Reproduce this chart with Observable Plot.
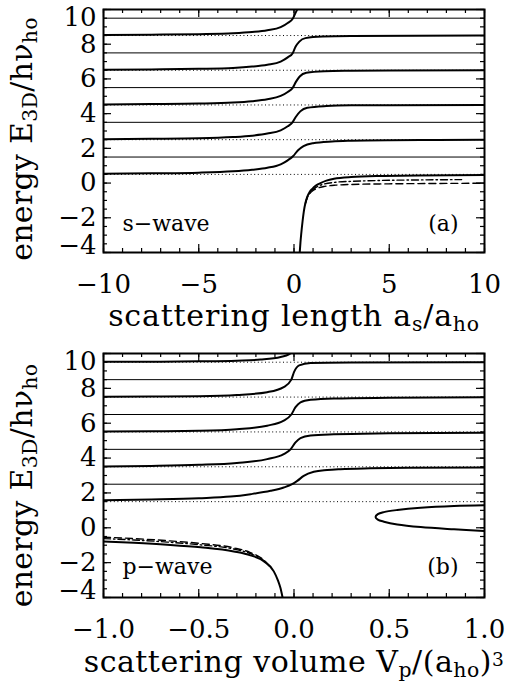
<!DOCTYPE html>
<html><head><meta charset="utf-8">
<script src="https://cdn.jsdelivr.net/npm/d3@7"></script>
<script src="https://cdn.jsdelivr.net/npm/@observablehq/plot@0.6"></script>
<style>body{margin:0;background:#fff} svg{display:block}</style>
</head><body><div id="chart"></div>
<script>
// ---------- Panel (a): s-wave ----------
const aXTicks = [-10, -5, 0, 5, 10];
const aXMinor = [-10,-9,-8,-7,-6,-5,-4,-3,-2,-1,0,1,2,3,4,5,6,7,8,9,10];
const aYTicks = [-2, 0, 2, 4, 6, 8];
const aYTop = [10];
const aYBottom = [-4];
const aLevelsSolid = [1.5, 3.5, 5.5, 7.5, 9.5];
const aLevelsDotted = [0.5, 2.5, 4.5, 6.5, 8.5];
const aBranch1 = [[-10,0.53],[-7.5,0.56],[-5,0.6],[-3.2,0.68],[-2.2,0.77],[-1.4,0.88],[-0.7,1.08],[-0.33,1.31],[-0.04,1.56],[0.2,1.88],[0.5,2.13],[1.0,2.3],[2.0,2.4],[3.0,2.44],[5,2.47],[7.5,2.48],[10,2.49]];
const aBranch2 = [[-10,2.53],[-7.5,2.55],[-5,2.58],[-3.2,2.65],[-2.2,2.73],[-1.4,2.85],[-0.7,3.04],[-0.33,3.27],[-0.08,3.5],[0.1,3.82],[0.33,4.13],[0.7,4.34],[1.7,4.44],[3,4.48],[5,4.49],[10,4.5]];
const aBranch3 = [[-10,4.53],[-7.5,4.55],[-5,4.58],[-3.2,4.64],[-2.2,4.72],[-1.4,4.83],[-0.7,5.02],[-0.33,5.25],[-0.06,5.5],[0.1,5.83],[0.3,6.14],[0.65,6.35],[1.6,6.44],[3,6.47],[5,6.49],[10,6.5]];
const aBranch4 = [[-10,6.53],[-7.5,6.55],[-5,6.58],[-3.2,6.63],[-2.2,6.71],[-1.4,6.82],[-0.7,7.0],[-0.33,7.24],[-0.06,7.5],[0.08,7.85],[0.28,8.15],[0.6,8.35],[1.5,8.44],[3,8.47],[10,8.5]];
const aBranch5 = [[-10,8.53],[-7.5,8.55],[-5,8.58],[-3.2,8.63],[-2.2,8.7],[-1.4,8.8],[-0.7,8.98],[-0.33,9.22],[-0.05,9.5],[0.1,9.85],[0.22,10.1],[0.4,10.35]];
const aBoundSolid = [[0.3,-4.0],[0.34,-3.4],[0.38,-2.92],[0.45,-2.2],[0.52,-1.6],[0.6,-1.15],[0.69,-0.81],[0.82,-0.52],[0.96,-0.33],[1.15,-0.14],[1.39,0.0],[1.7,0.14],[2.1,0.25],[3,0.35],[4.7,0.41],[6.5,0.44],[10,0.46]];
const aBoundDashDot = [[0.6,-1.16],[0.69,-0.84],[0.82,-0.58],[1.04,-0.33],[1.3,-0.16],[1.57,-0.06],[2.2,0.05],[3,0.1],[4.5,0.15],[6.5,0.18],[8.8,0.2]];
const aBoundDashed = [[0.6,-1.17],[0.69,-0.86],[0.82,-0.62],[1.04,-0.4],[1.3,-0.27],[1.57,-0.2],[2.2,-0.12],[3,-0.08],[4.5,-0.05],[6.5,-0.03],[10,-0.01]];
const aLabel = "s\u2212wave";
const aTag = "(a)";
const aXTitle = [["scattering length a",""],["s","sub"],["/a",""],["ho","sub"]];

// ---------- Panel (b): p-wave ----------
const bXTicks = [-1, -0.5, 0, 0.5, 1];
const bXMinor = [-1,-0.9,-0.8,-0.7,-0.6,-0.5,-0.4,-0.3,-0.2,-0.1,0,0.1,0.2,0.3,0.4,0.5,0.6,0.7,0.8,0.9,1];
const bYTicks = [-2, 0, 2, 4, 6, 8];
const bYTop = [10];
const bYBottom = [-4];
const bLevelsSolid = [2.5, 4.5, 6.5, 8.5];
const bLevelsDotted = [1.5, 3.5, 5.5, 7.5, 9.5];
const bBranch1 = [[-1,1.58],[-0.75,1.63],[-0.5,1.7],[-0.333,1.79],[-0.228,1.93],[-0.123,2.12],[-0.054,2.31],[-0.01,2.5],[0.017,2.69],[0.051,2.98],[0.104,3.21],[0.174,3.31],[0.244,3.36],[0.4,3.41],[0.6,3.44],[1,3.46]];
const bBranch2 = [[-1,3.52],[-0.75,3.55],[-0.5,3.61],[-0.3,3.72],[-0.141,3.94],[-0.054,4.23],[-0.018,4.5],[0.008,4.9],[0.034,5.15],[0.087,5.29],[0.209,5.36],[0.5,5.42],[1,5.46]];
const bBranch3 = [[-1,5.52],[-0.75,5.54],[-0.5,5.57],[-0.3,5.66],[-0.141,5.86],[-0.054,6.15],[-0.014,6.5],[0.008,6.92],[0.034,7.2],[0.087,7.34],[0.21,7.42],[0.5,7.46],[1,7.49]];
const bBranch4 = [[-1,7.52],[-0.75,7.53],[-0.5,7.55],[-0.3,7.62],[-0.141,7.78],[-0.054,8.07],[-0.014,8.5],[0.0,8.93],[0.027,9.32],[0.087,9.45],[0.3,9.48],[1,9.5]];
const bBranch5 = [[-1,9.52],[-0.75,9.53],[-0.5,9.55],[-0.3,9.59],[-0.176,9.65],[-0.07,9.8],[-0.027,9.95],[-0.01,10.1],[0.0,10.3]];
const bBoundSolid = [[-1,-0.78],[-0.84,-0.86],[-0.666,-0.97],[-0.49,-1.12],[-0.316,-1.36],[-0.229,-1.58],[-0.159,-1.92],[-0.106,-2.5],[-0.085,-3.0],[-0.071,-3.46],[-0.06,-4.0]];
const bBoundDashed = [[-1,-0.54],[-0.84,-0.62],[-0.666,-0.74],[-0.49,-0.9],[-0.316,-1.15],[-0.229,-1.42],[-0.159,-1.85],[-0.12,-2.3]];
const bBoundDashDot = [[-1,-0.62],[-0.84,-0.7],[-0.666,-0.82],[-0.49,-0.98],[-0.316,-1.22],[-0.229,-1.48],[-0.159,-1.88],[-0.12,-2.3]];
const bLoop = [[1,1.29],[0.84,1.25],[0.665,1.15],[0.542,1.02],[0.472,0.9],[0.44,0.78],[0.428,0.62],[0.44,0.47],[0.472,0.35],[0.542,0.19],[0.665,0.04],[0.84,-0.09],[1,-0.19]];
const bLabel = "p\u2212wave";
const bTag = "(b)";
const bXTitle = [["scattering volume V",""],["p","sub"],["/(a",""],["ho","sub"],[")",""],["3","sup"]];

const yTitle = [["energy E",""],["3D","sub"],["/h\u03bd",""],["ho","sub"]];

const FONT = "DejaVu Serif";
const plain = parts => parts.map(p => p[0]).join("");

function panel(o) {
  const fw = 505 - o.ml - o.mr, fh = o.h - o.mt - o.mb;
  const X = d => d[0], Y = d => d[1];
  const lineOpts = {x: X, y: Y, curve: "monotone-x", stroke: "black", strokeWidth: 2, clip: true};
  return Plot.plot({
    width: 505, height: o.h,
    marginLeft: o.ml, marginRight: o.mr, marginTop: o.mt, marginBottom: o.mb,
    x: {domain: o.xDomain, label: null},
    y: {domain: [-4, 10], label: null},
    style: {fontFamily: FONT, fontSize: "26px", background: "white", color: "black"},
    marks: [
      Plot.ruleY(o.levelsDotted, {y: d => d, stroke: "black", strokeWidth: 1, strokeDasharray: "1,2.6"}),
      Plot.ruleY(o.levelsSolid, {y: d => d, stroke: "black", strokeWidth: 1}),
      ...o.branches.map(b => Plot.line(b, lineOpts)),
      ...(o.loop ? [Plot.line(o.loop, {...lineOpts, curve: "catmull-rom"})] : []),
      Plot.line(o.boundDashed, {...lineOpts, strokeWidth: 1.4, strokeDasharray: "7,4"}),
      Plot.line(o.boundDashDot, {...lineOpts, strokeWidth: 1.4, strokeDasharray: "7,3,1.5,3"}),
      Plot.line(o.boundSolid, lineOpts),
      // inward ticks on all four sides
      Plot.tickX(o.xMinor, {x: d => d, insetTop: fh - 4, strokeWidth: 1.2}),
      Plot.tickX(o.xMinor, {x: d => d, insetBottom: fh - 4, strokeWidth: 1.2}),
      Plot.tickX(o.xTicks, {x: d => d, insetTop: fh - 8, strokeWidth: 1.2}),
      Plot.tickX(o.xTicks, {x: d => d, insetBottom: fh - 8, strokeWidth: 1.2}),
      Plot.tickY(o.yMinor, {y: d => d, insetRight: fw - 4, strokeWidth: 1.2}),
      Plot.tickY(o.yMinor, {y: d => d, insetLeft: fw - 4, strokeWidth: 1.2}),
      Plot.tickY(o.yMajor, {y: d => d, insetRight: fw - 8, strokeWidth: 1.2}),
      Plot.tickY(o.yMajor, {y: d => d, insetLeft: fw - 8, strokeWidth: 1.2}),
      Plot.frame({stroke: "black", strokeWidth: 2}),
      // tick labels
      Plot.axisX({ticks: o.xTicks, anchor: "bottom", tickSize: 0, tickPadding: o.xPad, tickFormat: o.xFormat, fontSize: 26, label: null}),
      Plot.axisY({ticks: o.yTicks, anchor: "left", tickSize: 0, tickPadding: 7, tickFormat: d3.format("d"), fontSize: 26, label: null}),
      Plot.axisY({ticks: o.yTop, anchor: "left", tickSize: 0, tickPadding: 7, tickFormat: d3.format("d"), fontSize: 26, label: null, dy: 8}),
      Plot.axisY({ticks: o.yBottom, anchor: "left", tickSize: 0, tickPadding: 7, tickFormat: d3.format("d"), fontSize: 26, label: null, dy: -7}),
      // annotations
      Plot.text([o.label], {text: d => d, frameAnchor: "bottom-left", textAnchor: "start", dx: 19, dy: o.tagDy, fontSize: 22}),
      Plot.text([o.tag], {text: d => d, frameAnchor: "bottom-right", textAnchor: "end", dx: -26, dy: o.tagDy, fontSize: 22}),
      // axis titles
      Plot.text([plain(o.xTitle)], {text: d => d, frameAnchor: "bottom", textAnchor: "middle", dy: o.xTitleDy, fontSize: 30}),
      Plot.text([plain(yTitle)], {text: d => d, frameAnchor: "left", textAnchor: "middle", rotate: -90, dx: -81, dy: o.yTitleDy, fontSize: 30})
    ]
  });
}

const SVGNS = "http://www.w3.org/2000/svg";
function richify(svg, parts, size, spacing) {
  const p = plain(parts);
  for (const t of svg.querySelectorAll("text")) {
    if (t.textContent !== p) continue;
    t.textContent = "";
    if (spacing) t.setAttribute("letter-spacing", spacing);
    let shift = 0;
    for (const [s, kind] of parts) {
      const ts = document.createElementNS(SVGNS, "tspan");
      const target = kind === "sub" ? 0.17 * size : kind === "sup" ? -0.17 * size : 0;
      if (target !== shift) ts.setAttribute("dy", target - shift);
      shift = target;
      if (kind) ts.setAttribute("font-size", (kind === "sup" ? 0.62 : 0.68) * size);
      ts.textContent = s;
      t.appendChild(ts);
    }
  }
}

const fmtA = d3.format("d");
const fmtB = d3.format(".1f");
const range = (a, b, s) => d3.range(Math.round((b - a) / s) + 1).map(i => +(a + i * s).toFixed(3));

const svgA = panel({
  h: 340, ml: 103, mr: 21, mt: 9, mb: 88,
  xDomain: [-10, 10], xTicks: aXTicks, xMinor: aXMinor, xFormat: fmtA, xPad: 22,
  yTicks: aYTicks, yTop: aYTop, yBottom: aYBottom,
  yMajor: range(-4, 10, 2), yMinor: range(-4, 10, 0.5),
  levelsSolid: aLevelsSolid, levelsDotted: aLevelsDotted,
  branches: [aBranch1, aBranch2, aBranch3, aBranch4, aBranch5],
  boundSolid: aBoundSolid, boundDashed: aBoundDashed, boundDashDot: aBoundDashDot,
  label: aLabel, tag: aTag, tagDy: -22, xTitle: aXTitle, xTitleDy: 73, yTitleDy: 8
});
const svgB = panel({
  h: 341, ml: 103, mr: 21, mt: 13, mb: 84,
  xDomain: [-1, 1], xTicks: bXTicks, xMinor: bXMinor, xFormat: fmtB, xPad: 22,
  yTicks: bYTicks, yTop: bYTop, yBottom: bYBottom,
  yMajor: range(-4, 10, 2), yMinor: range(-4, 10, 0.5),
  levelsSolid: bLevelsSolid, levelsDotted: bLevelsDotted,
  branches: [bBranch1, bBranch2, bBranch3, bBranch4, bBranch5],
  loop: bLoop,
  boundSolid: bBoundSolid, boundDashed: bBoundDashed, boundDashDot: bBoundDashDot,
  label: bLabel, tag: bTag, tagDy: -24, xTitle: bXTitle, xTitleDy: 74, yTitleDy: 10
});
richify(svgA, aXTitle, 30, 0.8); richify(svgA, yTitle, 30, 0.3);
richify(svgB, bXTitle, 30, 0.5); richify(svgB, yTitle, 30, 0.3);
const root = document.getElementById("chart");
root.appendChild(svgA);
root.appendChild(svgB);
</script></body></html>
